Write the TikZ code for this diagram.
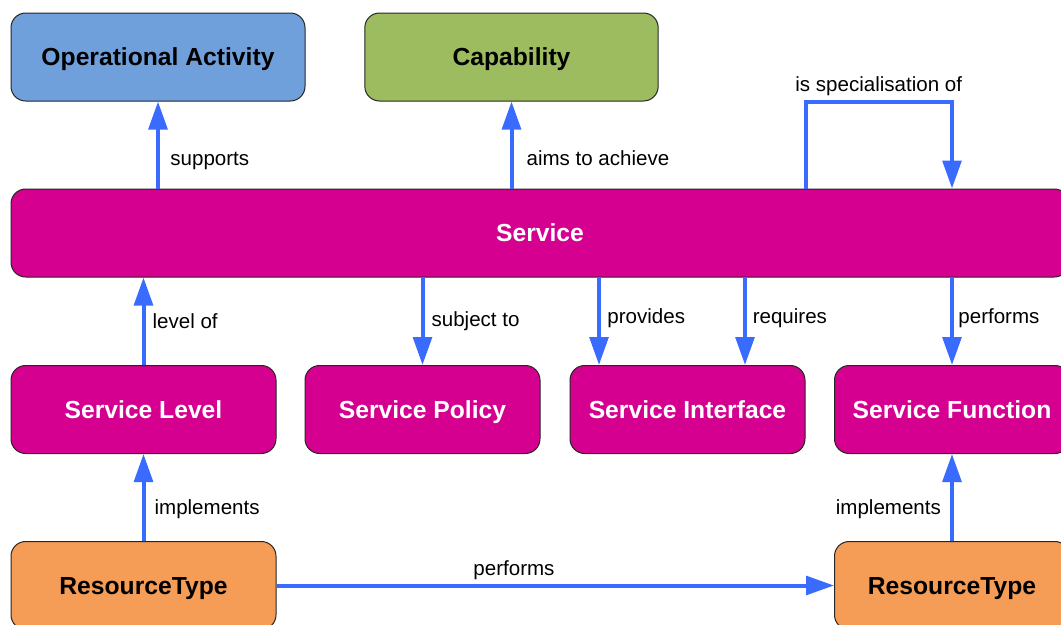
\documentclass[tikz,border=0pt]{standalone}
\usepackage{fontspec}
\setmainfont{Liberation Sans}
\usetikzlibrary{arrows.meta}
\usetikzlibrary{positioning}
\definecolor{opblue}{HTML}{6FA0DC}
\definecolor{capgreen}{HTML}{9DBB5F}
\definecolor{svcmag}{HTML}{D5008F}
\definecolor{resorange}{HTML}{F59D56}
\definecolor{relblue}{HTML}{3A6BFF}

\begin{document}
\begin{tikzpicture}[x=0.75pt,y=-0.75pt,
    box/.style={draw=black!85,line width=0.75pt,rounded corners=11pt,minimum height=66pt,text height=13.2pt,text depth=0pt,font=\bfseries\fontsize{18.5}{22}\selectfont},
    svcbox/.style={box,fill=svcmag,text=white},
    rel/.style={draw=relblue,line width=3pt,-{Triangle[length=21pt,width=14pt]}},
    lbl/.style={font=\fontsize{15.4}{18}\selectfont,text height=11pt,text depth=3pt}]
                \useasboundingbox (0,0) rectangle (1061,625);
                \node[box,fill=opblue,minimum width=220.5pt] (oa) at (158,57) {Operational Activity};
                \node[box,fill=capgreen,minimum width=220pt] (cap) at (511.5,57) {Capability};
                \node[svcbox,minimum width=793.5pt] (svc) at (540,233) {Service};
                \node[svcbox,minimum width=198.75pt] (lvl) at (143.5,409.5) {Service Level};
                \node[svcbox,minimum width=176.25pt] (pol) at (422.5,409.5) {Service Policy};
                \node[svcbox,minimum width=176.25pt] (intf) at (687.5,409.5) {Service Interface};
                \node[svcbox,minimum width=176.25pt] (fun) at (952,409.5) {Service Function};
                \node[box,fill=resorange,minimum width=198.75pt] (rtl) at (143.5,585.5) {ResourceType};
                \node[box,fill=resorange,minimum width=176.25pt] (rtr) at (952,585.5) {ResourceType};
                \path (intf.north) ++(-88.5,0) coordinate (pv);
                \path (intf.north) ++(57.5,0) coordinate (rq);
                \draw[rel] (oa.south |- svc.north) -- node[lbl,right,pos=0.32,xshift=4.5pt] {supports} (oa.south);
                \draw[rel] (cap.south |- svc.north) -- node[lbl,right,pos=0.32,xshift=6.5pt] {aims to achieve} (cap.south);
                \draw[rel] (intf.east |- svc.north) -- (intf.east |- oa.south) -| node[lbl,above,pos=0.25] {is specialisation of} (fun.north |- svc.north);
                \draw[rel] (lvl.north) -- node[lbl,right,pos=0.48,xshift=2pt] {level of} (lvl.north |- svc.south);
                \draw[rel] (pol.north |- svc.south) -- node[lbl,right,pos=0.5,xshift=2pt] {subject to} (pol.north);
                \draw[rel] (pv |- svc.south) -- node[lbl,right,pos=0.46,xshift=1.5pt] {provides} (pv);
                \draw[rel] (rq |- svc.south) -- node[lbl,right,pos=0.46,xshift=1pt] {requires} (rq);
                \draw[rel] (fun.north |- svc.south) -- node[lbl,right,pos=0.46] {performs} (fun.north);
                \draw[rel] (rtl.north) -- node[lbl,right,pos=0.37,xshift=3.5pt] {implements} (lvl.south);
                \draw[rel] (rtr.north) -- node[lbl,left,pos=0.37,xshift=-3.5pt] {implements} (fun.south);
                \draw[rel] (rtl.east) -- node[lbl,above,pos=0.426] {performs} (rtr.west);
              \end{tikzpicture}
\end{document}
